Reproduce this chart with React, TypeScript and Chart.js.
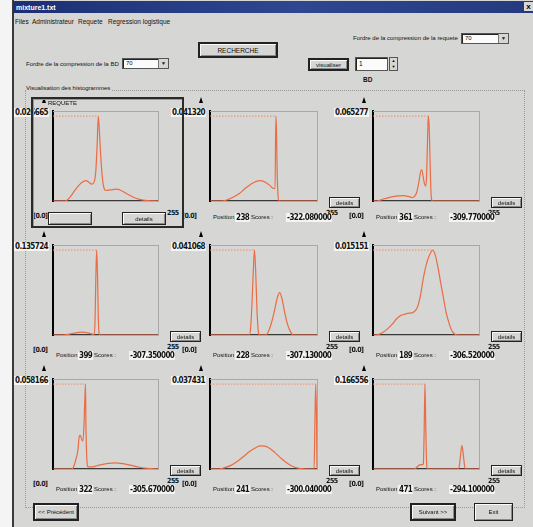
import React, { useEffect, useRef } from "react";
import { Chart, registerables } from "chart.js";

Chart.register(...registerables);

// ---- histograms: grey-level bin (0..255) and normalised frequency ----
const requeteBins = [0, 30, 40, 50, 60, 70, 80, 88, 94, 100, 104, 107, 110, 113, 116, 119, 123, 128, 140, 155, 165, 180, 195, 210, 230, 255];
const requeteFreq = [0, 0, 0.001, 0.0028, 0.0045, 0.0058, 0.0064, 0.0058, 0.0053, 0.006, 0.0095, 0.017, 0.026665, 0.021, 0.014, 0.0085, 0.0045, 0.0033, 0.0035, 0.0037, 0.0033, 0.0022, 0.0012, 0.0005, 0.0001, 0];

const bins238 = [0, 25, 40, 55, 70, 85, 100, 112, 121, 130, 140, 150, 155, 157, 158.5, 160, 162, 164, 255];
const freq238 = [0, 0, 0.0005, 0.0018, 0.0036, 0.0063, 0.0085, 0.0097, 0.0099, 0.0093, 0.008, 0.0062, 0.006, 0.04132, 0.034, 0.015, 0.003, 0, 0];

const bins361 = [0, 10, 25, 40, 55, 73, 85, 94, 100, 105, 110, 116, 118, 121, 124, 127, 129, 131, 133, 135, 137, 139, 141, 143, 255];
const freq361 = [0, 0, 0.0015, 0.0028, 0.0037, 0.0041, 0.0035, 0.0027, 0.0035, 0.0065, 0.014, 0.024, 0.0235, 0.018, 0.013, 0.0115, 0.02, 0.045, 0.065277, 0.058, 0.035, 0.01, 0.001, 0, 0];

const bins399 = [0, 25, 40, 55, 70, 85, 95, 100, 102, 104, 106, 108, 110, 112, 115, 255];
const freq399 = [0, 0, 0.0015, 0.0035, 0.0045, 0.0035, 0.0015, 0.001, 0.02, 0.09, 0.135724, 0.1, 0.03, 0.002, 0, 0];

const bins228 = [0, 94, 97, 100, 103, 106, 109, 112, 115, 117, 133, 140, 148, 155, 161, 166, 171, 178, 185, 192, 198, 255];
const freq228 = [0, 0, 0.004, 0.015, 0.03, 0.041068, 0.03, 0.012, 0.002, 0, 0, 0.002, 0.007, 0.013, 0.0185, 0.0205, 0.018, 0.011, 0.005, 0.0015, 0, 0];

const bins189 = [0, 7, 20, 35, 47, 57, 67, 76, 86, 96, 106, 114, 121, 128, 135, 144, 150, 157, 163, 170, 176, 181, 186, 191, 198, 206, 255];
const freq189 = [0, 0, 0.0003, 0.0011, 0.002, 0.0029, 0.0035, 0.0037, 0.0039, 0.004, 0.0048, 0.007, 0.0101, 0.0125, 0.0141, 0.015151, 0.0142, 0.0118, 0.0092, 0.0064, 0.004, 0.0026, 0.0014, 0.0006, 0.0001, 0, 0];

const bins322 = [0, 45, 50, 55, 60, 64, 66, 69, 72, 75, 77, 79, 80, 82, 85, 95, 110, 130, 150, 170, 190, 210, 230, 255];
const freq322 = [0, 0, 0.0015, 0.006, 0.012, 0.0225, 0.023, 0.021, 0.019, 0.028, 0.045, 0.058166, 0.03, 0.008, 0.0015, 0.0015, 0.0025, 0.0037, 0.0042, 0.0037, 0.0025, 0.0012, 0.0004, 0];

const bins241 = [0, 20, 35, 50, 65, 80, 95, 110, 120, 130, 140, 155, 170, 185, 200, 215, 230, 248, 250, 252, 254, 255];
const freq241 = [0, 0, 0.0006, 0.0016, 0.0033, 0.0055, 0.0078, 0.0095, 0.0102, 0.0101, 0.0094, 0.0072, 0.0046, 0.0024, 0.0009, 0.0002, 0, 0, 0.02, 0.037431, 0.02, 0];

const bins471 = [0, 100, 105, 112, 118, 121, 123, 125, 127, 129, 131, 205, 208, 211, 214, 217, 220, 223, 255];
const freq471 = [0, 0, 0.003, 0.008, 0.0085, 0.01, 0.07, 0.166556, 0.08, 0.01, 0, 0, 0.008, 0.03, 0.046, 0.03, 0.008, 0, 0];

// ---- texts ----
const peakLabels = ["0.026665", "0.041320", "0.065277", "0.135724", "0.041068", "0.015151", "0.058166", "0.037431", "0.166556"];
const positions = ["", "238", "361", "399", "228", "189", "322", "241", "471"];
const scores = ["", "-322.080000", "-309.770000", "-307.350000", "-307.130000", "-306.520000", "-305.670000", "-300.040000", "-294.100000"];
const menuItems = ["Files", "Administrateur", "Requete", "Regression logistique"];

const allBins = [requeteBins, bins238, bins361, bins399, bins228, bins189, bins322, bins241, bins471];
const allFreq = [requeteFreq, freq238, freq361, freq399, freq228, freq189, freq322, freq241, freq471];

// ---- layout of the 3x3 grid of plots ----
const colAxis = [45, 202, 365];
const colWidth = [121, 123, 122];
const rowTop = [103, 237, 371];
const PLOT_H = 106;
const PEAK_GAP = 6;
const PAD = 4;

const CURVE = "#eb6c44";
const PEAK_LINE = "#ee8d6e";
const BG = "#d6d6d4";
const SANS = '"Liberation Sans", Arial, sans-serif';
const BOLD = '"DejaVu Sans Condensed", "DejaVu Sans", sans-serif';

type HistProps = { bins: number[]; freq: number[]; left: number; top: number; width: number; height: number };

function Histogram({ bins, freq, left, top, width, height }: HistProps) {
  const ref = useRef<HTMLCanvasElement | null>(null);
  useEffect(() => {
    const canvas = ref.current;
    if (!canvas) return;
    const peak = Math.max(...freq);
    const peakBin = bins[freq.indexOf(peak)];
    const hidden = { display: false };
    const chart = new Chart(canvas, {
      type: "line",
      data: {
        datasets: [
          {
            data: bins.map((b, i) => ({ x: b, y: freq[i] })),
            borderColor: CURVE,
            borderWidth: 1.2,
            pointRadius: 0,
            cubicInterpolationMode: "monotone",
            fill: false,
          },
          {
            data: [{ x: 0, y: peak }, { x: peakBin, y: peak }],
            borderColor: PEAK_LINE,
            borderWidth: 1,
            borderDash: [1.5, 1.5],
            pointRadius: 0,
            fill: false,
          },
        ],
      },
      options: {
        animation: false,
        responsive: false,
        maintainAspectRatio: false,
        events: [],
        layout: { padding: PAD },
        plugins: { legend: hidden, tooltip: { enabled: false } },
        scales: {
          x: { type: "linear", min: 0, max: 255, ticks: hidden, grid: hidden, border: { color: "#3a3a3a", width: 1.2 } },
          y: { type: "linear", min: 0, max: (peak * height) / (height - PEAK_GAP), ticks: hidden, grid: hidden, border: { color: "#000", width: 2 } },
          x2: { type: "linear", position: "top", min: 0, max: 1, ticks: hidden, grid: hidden, border: { color: "#a8a8a8", width: 1, dash: [1, 2] } },
          y2: { type: "linear", position: "right", min: 0, max: 1, ticks: hidden, grid: hidden, border: { color: "#a8a8a8", width: 1, dash: [1, 2] } },
        },
      },
    } as any);
    return () => chart.destroy();
  }, [bins, freq, width, height]);
  return (
    <canvas
      ref={ref}
      width={width + 2 * PAD}
      height={height + 2 * PAD}
      style={{ position: "absolute", left: left - PAD, top: top - PAD, width: width + 2 * PAD, height: height + 2 * PAD }}
    />
  );
}

function Txt({ x, y, children, size = 6, bold = false, style = {} }: any) {
  return (
    <span
      style={{
        position: "absolute",
        left: x,
        top: y,
        fontSize: size,
        lineHeight: `${size + 2}px`,
        fontFamily: SANS,
        fontWeight: bold ? 700 : 400,
        color: "#111",
        whiteSpace: "nowrap",
        ...style,
      }}
    >
      {children}
    </span>
  );
}

function Num({ x, y, children, right }: any) {
  const pos: any = right !== undefined ? { right: 533 - right } : { left: x };
  return (
    <span
      style={{
        position: "absolute",
        top: y,
        ...pos,
        fontSize: 8,
        lineHeight: "9px",
        fontFamily: BOLD,
        fontWeight: 700,
        color: "#111",
        background: "#f4f4f2",
        padding: "0 1px",
        whiteSpace: "nowrap",
        letterSpacing: -0.6,
      }}
    >
      {children}
    </span>
  );
}

function Btn({ x, y, w, h, label, strong = false, size = 6 }: any) {
  return (
    <div
      style={{
        position: "absolute",
        left: x,
        top: y,
        width: w,
        height: h,
        boxSizing: "border-box",
        background: BG,
        border: strong ? "2px solid #222" : "1px solid #222",
        boxShadow: "inset 1px 1px 0 #fafafa, inset -1px -1px 0 #8a8a8a",
        fontFamily: SANS,
        fontSize: size,
        color: "#111",
        display: "flex",
        alignItems: "center",
        justifyContent: "center",
        whiteSpace: "nowrap",
      }}
    >
      {label}
    </div>
  );
}

function Combo({ x, y, w, h, value }: any) {
  return (
    <div
      style={{
        position: "absolute",
        left: x,
        top: y,
        width: w,
        height: h,
        boxSizing: "border-box",
        background: "#fbfbfb",
        border: "1px solid #555",
        boxShadow: "inset 1px 1px 0 #222",
        fontFamily: SANS,
        fontSize: 6,
        lineHeight: `${h - 2}px`,
        paddingLeft: 3,
        color: "#111",
      }}
    >
      {value}
      <div
        style={{
          position: "absolute",
          right: 0,
          top: 0,
          width: 9,
          height: h - 2,
          background: BG,
          borderLeft: "1px solid #777",
          fontSize: 5,
          lineHeight: `${h - 2}px`,
          textAlign: "center",
        }}
      >
        ▼
      </div>
    </div>
  );
}

function Panel({ i }: { i: number }) {
  const row = Math.floor(i / 3);
  const col = i % 3;
  const ax = colAxis[col];
  const w = colWidth[col];
  const top = rowTop[row];
  const bottom = top + PLOT_H;
  const right = ax + w;
  const zeroX = [33, 182, 349][col];
  const infoY = row === 0 ? bottom + 4 : bottom + 8;
  const axisLabel = { fontFamily: BOLD, letterSpacing: -0.5, color: "#111" };
  return (
    <>
      <Num right={ax + 4} y={top + 5}>{peakLabels[i]}</Num>
      <Txt x={zeroX} y={bottom + 3} size={7} bold style={axisLabel}>[0.0]</Txt>
      <Txt x={right + 1} y={bottom} size={7} bold style={axisLabel}>255</Txt>
      <div
        style={{
          position: "absolute",
          left: ax - 3,
          top: top - 6,
          width: 0,
          height: 0,
          borderLeft: "2.5px solid transparent",
          borderRight: "2.5px solid transparent",
          borderBottom: "6px solid #000",
        }}
      />
      <Histogram bins={allBins[i]} freq={allFreq[i]} left={ax} top={top} width={w} height={PLOT_H} />
      {i > 0 && (
        <>
          <Txt x={ax + 11} y={infoY}>Position :</Txt>
          <Num x={ax + 33} y={infoY}>{positions[i]}</Num>
          <Txt x={ax + 49} y={infoY}>Scores :</Txt>
          <Num x={ax + 84} y={infoY}>{scores[i]}</Num>
          <Btn x={right + 4} y={bottom - 12} w={31} h={11} label="details" />
        </>
      )}
    </>
  );
}

export default function App() {
  return (
    <div
      style={{
        position: "fixed",
        left: 0,
        top: 0,
        width: 533,
        height: 527,
        overflow: "hidden",
        background: "#f4f4f4",
      }}
    >
      {/* window body */}
      <div style={{ position: "absolute", left: 12, top: 0, width: 521, height: 527, background: BG, borderLeft: "2px solid #3a3a3a" }} />
      {/* title bar */}
      <div
        style={{
          position: "absolute",
          left: 13,
          top: 1,
          width: 520,
          height: 12,
          background: "linear-gradient(90deg, #1c2f74 0%, #2f4790 55%, #25397e 100%)",
        }}
      />
      <Txt x={16} y={3} size={7} bold style={{ color: "#fff" }}>mixture1.txt</Txt>
      <div style={{ position: "absolute", left: 524, top: 2, width: 9, height: 9, background: "#d8d8d8", fontFamily: SANS, fontSize: 8, fontWeight: 700, lineHeight: "9px", textAlign: "center" }}>x</div>

      {/* menu */}
      {menuItems.map((m, k) => (
        <Txt key={m} x={[15, 32, 78, 108][k]} y={18} size={6.5}>{m}</Txt>
      ))}

      {/* query / database controls */}
      <Txt x={353} y={34} size={6}>Fordre de la compression de la requete</Txt>
      <Combo x={461} y={33} w={48} h={11} value="70" />
      <Btn x={198} y={42} w={80} h={16} label="RECHERCHE" strong size={6.5} />
      <Txt x={26} y={60} size={6}>Fordre de la compression de la BD</Txt>
      <Combo x={122} y={58} w={47} h={11} value="70" />
      <Btn x={308} y={58} w={41} h={13} label="visualiser" strong />
      <div style={{ position: "absolute", left: 355, top: 57, width: 33, height: 14, boxSizing: "border-box", background: "#fbfbfb", border: "1px solid #555", boxShadow: "inset 1px 1px 0 #222", fontFamily: SANS, fontSize: 6.5, lineHeight: "12px", paddingLeft: 3 }}>1</div>
      <div style={{ position: "absolute", left: 389, top: 57, width: 9, height: 14, boxSizing: "border-box", background: BG, border: "1px solid #555", fontSize: 4, lineHeight: "6px", textAlign: "center", fontFamily: SANS }}>
        ▲<br />▼
      </div>
      <Txt x={363} y={76} size={6.5} bold>BD</Txt>

      {/* group box */}
      <div style={{ position: "absolute", left: 25, top: 90, width: 498, height: 416, border: "1px dotted #9a9a9a" }} />
      <Txt x={26} y={84} size={6} style={{ background: BG, paddingRight: 2 }}>Visualisation des histogrammes</Txt>

      {/* histogram grid */}
      {peakLabels.map((_, i) => (
        <Panel key={i} i={i} />
      ))}

      {/* query histogram frame */}
      <div
        style={{
          position: "absolute",
          left: 31,
          top: 97,
          width: 153,
          height: 131,
          boxSizing: "border-box",
          border: "2px solid #2a2a2a",
          boxShadow: "inset 1px 1px 0 #9a9a9a",
        }}
      />
      <Txt x={48} y={99} size={6}>REQUETE</Txt>
      <Btn x={48} y={212} w={44} h={13} label="" />
      <Btn x={122} y={212} w={44} h={13} label="details" />

      {/* navigation */}
      <Btn x={33} y={503} w={46} h={18} label="<< Précédent" strong />
      <Btn x={410} y={503} w={46} h={18} label="Suivant >>" strong />
      <Btn x={474} y={503} w={39} h={18} label="Exit" />
    </div>
  );
}
